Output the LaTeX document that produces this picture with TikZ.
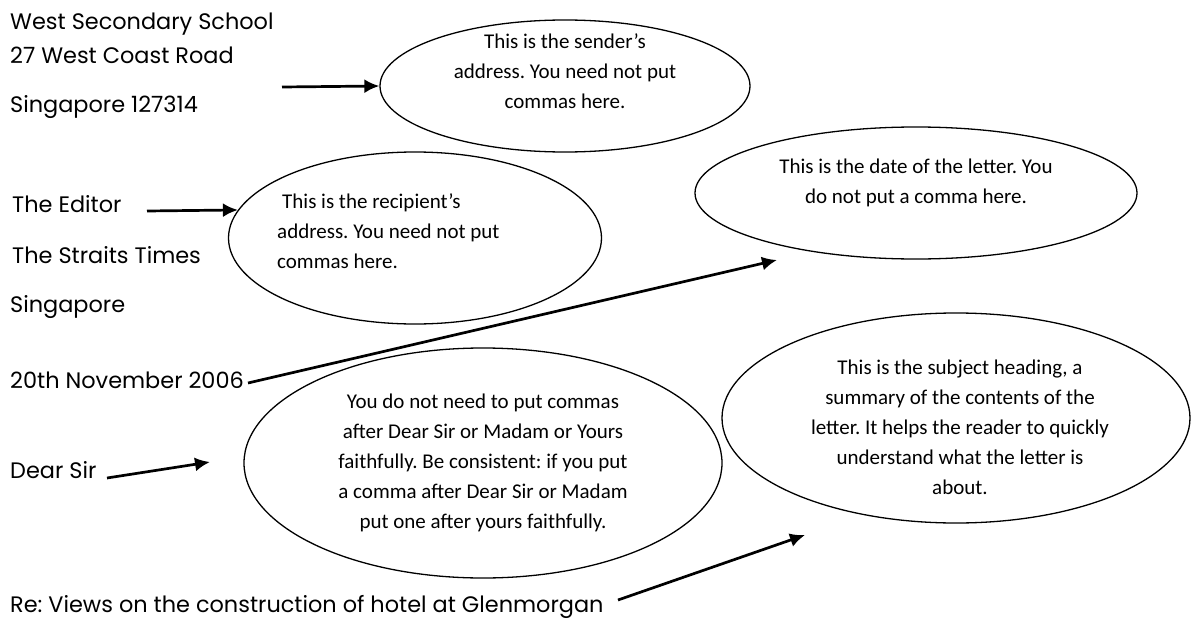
\documentclass[tikz,border=0pt]{standalone}
\usepackage{fontspec}
\newfontfamily\addrfont{Poppins}
\newfontfamily\notefont{Carlito}
\usetikzlibrary{arrows.meta,shapes.geometric}
\frenchspacing

\begin{document}
\begin{tikzpicture}
[x=1pt, y=-1pt,
addr/.style={anchor=base west, inner sep=0pt, font=\addrfont\fontsize{22.4}{26}\selectfont},
bubble/.style={ellipse, draw, line width=1.3pt, inner sep=0pt},
note/.style={inner sep=0pt, align=center, font=\notefont\fontsize{21}{30}\selectfont},
ptr/.style={->, line width=2.7pt},
>/.tip={Latex[length=15pt, width=14pt]}]

	\useasboundingbox (0,0) rectangle (1192,621);

	% the letter
	\node (school) at (10,29) [addr] {West Secondary School};
	\node (street) at (10,63) [addr] {27 West Coast Road};
	\node (city) at (10,112) [addr] {Singapore 127314};
	\node (editor) at (12,212) [addr] {The Editor};
	\node (paper) at (12,263) [addr] {The Straits Times};
	\node (country) at (10,312) [addr] {Singapore};
	\node (date) at (10,388) [addr] {20th November 2006};
	\node (greet) at (10,478) [addr] {Dear Sir};
	\node (re) at (10,612) [addr] {Re: Views on the construction of hotel at Glenmorgan};

	% the notes
	\node (sndrbub) at (565,86) [bubble, minimum width=370pt, minimum height=132pt] {};
	\node (rcptbub) at (415,238) [bubble, minimum width=373pt, minimum height=172pt] {};
	\node (datebub) at (916,193) [bubble, minimum width=442pt, minimum height=132pt] {};
	\node (greetbub) at (483,463) [bubble, minimum width=478pt, minimum height=230pt] {};
	\node (subjbub) at (956,418) [bubble, minimum width=468pt, minimum height=210pt] {};

	\node (sndrtxt) at (565,71) [note] {This is the sender’s\\address. You need not put\\commas here.};
	\node (rcpttxt) at (277,231) [note, anchor=west, align=left] {\hspace{5pt}This is the recipient’s\\address. You need not put\\commas here.};
	\node (datetxt) at (916,183) [note] {This is the date of the letter. You\\do not put a comma here.};
	\node (greettxt) at (483,463) [note] {You do not need to put commas\\after Dear Sir or Madam or Yours\\faithfully. Be consistent: if you put\\a comma after Dear Sir or Madam\\put one after yours faithfully.};
	\node (subjtxt) at (960,427) [note] {This is the subject heading, a\\summary of the contents of the\\letter. It helps the reader to quickly\\understand what the letter is\\about.};

	\coordinate (sndrtail) at (282,87);
	\coordinate (rcpttail) at (147,211);
	\coordinate (datetail) at (248,383);
	\coordinate (datetip) at (777,260);
	\coordinate (greettail) at (107,478);
	\coordinate (greettip) at (210,462);
	\coordinate (retail) at (618,600);
	\coordinate (retip) at (805,535);

	\draw[ptr] (sndrtail) -- (sndrbub.west);
	\draw[ptr] (rcpttail) -- (rcptbub.171);
	\draw[ptr] (datetail) -- (datetip);
	\draw[ptr] (greettail) -- (greettip);
	\draw[ptr] (retail) -- (retip);

\end{tikzpicture}
\end{document}
